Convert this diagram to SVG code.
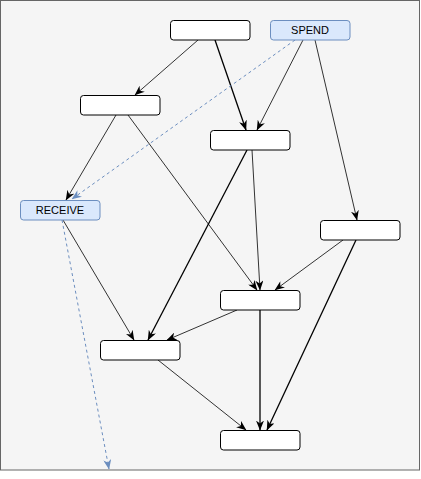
<svg xmlns="http://www.w3.org/2000/svg" width="421" height="479" viewBox="0 0 421 479">
<style>
.n{fill:#ffffff;stroke:#000000;stroke-width:1}
.b{fill:#dae8fc;stroke:#6c8ebf;stroke-width:1}
.t{font-family:"Liberation Sans",Arial,sans-serif;font-size:11px;fill:#000000;text-anchor:middle}
.e{fill:none;stroke:#333333;stroke-width:1;marker-end:url(#ah)}
.k{stroke:#000000;stroke-width:1.3}
.d{fill:none;stroke:#6c8ebf;stroke-width:1;stroke-dasharray:3 3;marker-end:url(#ab)}
</style>
<defs>
<marker id="ah" viewBox="0 0 10 8" refX="9.5" refY="4" markerWidth="10" markerHeight="8" markerUnits="userSpaceOnUse" orient="auto">
<path d="M0,0 L10,4 L0,8 L3,4 z" fill="#000000"/>
</marker>
<marker id="ab" viewBox="0 0 10 8" refX="9.5" refY="4" markerWidth="10" markerHeight="8" markerUnits="userSpaceOnUse" orient="auto">
<path d="M0,0 L10,4 L0,8 L3,4 z" fill="#6c8ebf"/>
</marker>
</defs>
<rect x="0.5" y="0.5" width="419" height="469.5" fill="#f5f5f5" stroke="#666666" stroke-width="1"/>
<g id="connectors">
<path class="e" d="M198,40 L135,95"/>
<path class="e k" d="M215,40 L246,130"/>
<path class="e" d="M303,40 L257,130"/>
<path class="e" d="M315,40 L357,220"/>
<path class="d" d="M295,40 L72,199"/>
<path class="e" d="M116,115 L66,200"/>
<path class="e" d="M128,115 L257,290"/>
<path class="e k" d="M247,150 L148,340"/>
<path class="e" d="M252,150 L260,290"/>
<path class="e" d="M343,240 L275,290"/>
<path class="e k" d="M356,240 L267,430"/>
<path class="e" d="M63,220 L134,340"/>
<path class="d" d="M62,220 L109,469"/>
<path class="e" d="M237,310 L167,340"/>
<path class="e k" d="M260,310 L260,430"/>
<path class="e" d="M158,360 L246,430"/>
</g>
<g id="nodeA"><rect class="n" x="170.5" y="20.5" width="79.5" height="19.5" rx="3"/></g>
<g id="spend"><rect class="b" x="270.5" y="20.5" width="79.5" height="19.5" rx="3"/><text class="t" x="310" y="34">SPEND</text></g>
<g id="nodeB"><rect class="n" x="80.5" y="95.5" width="79.5" height="19.5" rx="3"/></g>
<g id="nodeC"><rect class="n" x="210.5" y="130.5" width="79.5" height="19.5" rx="3"/></g>
<g id="receive"><rect class="b" x="20.5" y="200.5" width="79.5" height="19.5" rx="3"/><text class="t" x="60" y="214">RECEIVE</text></g>
<g id="nodeD"><rect class="n" x="320.5" y="220.5" width="79.5" height="19.5" rx="3"/></g>
<g id="nodeE"><rect class="n" x="220.5" y="290.5" width="79.5" height="19.5" rx="3"/></g>
<g id="nodeF"><rect class="n" x="100.5" y="340.5" width="79.5" height="19.5" rx="3"/></g>
<g id="nodeG"><rect class="n" x="220.5" y="430.5" width="79.5" height="19.5" rx="3"/></g>
</svg>
